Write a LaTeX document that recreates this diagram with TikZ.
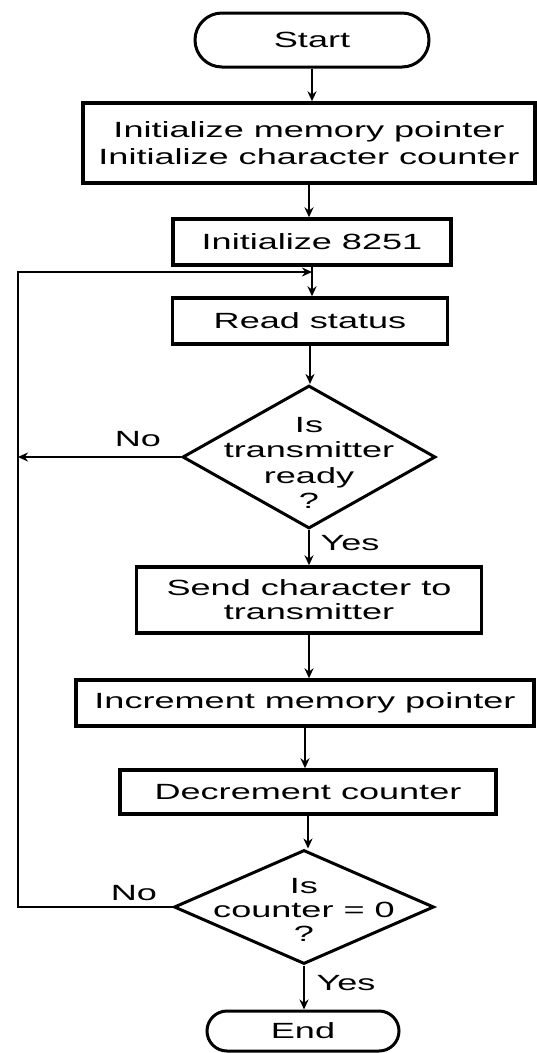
\documentclass[tikz,border=0pt]{standalone}
\usepackage{fontspec}
\setmainfont[FakeStretch=1.64]{Liberation Sans}
\usetikzlibrary{shapes.geometric,arrows.meta}
\begin{document}
\begin{tikzpicture}[x=1pt,y=-1pt,
  every node/.style={font=\fontsize{22}{27}\selectfont, inner sep=0pt, text=black},
  procbox/.style={draw, line width=3.4pt, rectangle, align=center},
  terminal/.style={draw, line width=3pt, rectangle, rounded corners=#1},
  decision/.style={draw, line width=3pt, diamond, shape aspect=1.8},
  flow/.style={line width=2.2pt, -{Stealth[length=10pt,width=9pt]}}
]
\useasboundingbox[fill=white] (0,0) rectangle (536,1053);

% terminals and process boxes
\node[terminal=27pt, minimum width=234pt, minimum height=54pt] (start) at (312,40) {Start};
\node[procbox, minimum width=452pt, minimum height=80pt] (init) at (309,143)
  {Initialize memory pointer\\Initialize character counter};
\node[procbox, minimum width=278pt, minimum height=46pt] (usart) at (312,242) {Initialize 8251};
\node[procbox, minimum width=275pt, minimum height=46pt] (read) at (310,321) {Read status};

% first decision
\node[decision, minimum width=253pt, minimum height=143pt] (d1) at (309,457) {};
\node[align=center, font=\fontsize{22}{25.5}\selectfont] (d1txt) at (309,463)
  {Is\\transmitter\\ready\\?};

\node[procbox, minimum width=345pt, minimum height=66pt, font=\fontsize{22}{24}\selectfont] (send) at (309,600)
  {Send character to\\transmitter};
\node[procbox, minimum width=458pt, minimum height=46pt] (incr) at (305,703) {Increment memory pointer};
\node[procbox, minimum width=376pt, minimum height=44pt] (decr) at (308,792) {Decrement counter};

% second decision
\node[decision, minimum width=260pt, minimum height=114pt] (d2) at (304,907) {};
\node[align=center, font=\fontsize{22}{24}\selectfont] (d2txt) at (304,910)
  {Is\\counter = 0\\?};

\node[terminal=20pt, minimum width=192pt, minimum height=40pt] (stop) at (303,1031) {End};

% branch labels
\node (no1) at (138,439) {No};
\node (yes1) at (350,543) {Yes};
\node (no2) at (134,893) {No};
\node (yes2) at (346,983) {Yes};

% loop-back line
\coordinate (loopTop) at (18,272);
\coordinate (joint) at (usart.south |- loopTop);

% main flow
\draw[flow] (start.south) -- (start.south |- init.north);
\draw[flow] (init.south) -- (init.south |- usart.north);
\draw[flow] (usart.south) -- (usart.south |- read.north);
\draw[flow] (read.south) -- (read.south |- d1.north);
\draw[flow] (d1.south) -- (d1.south |- send.north);
\draw[flow] (send.south) -- (send.south |- incr.north);
\draw[flow] (incr.south) -- (incr.south |- decr.north);
\draw[flow] (decr.south) -- (decr.south |- d2.north);
\draw[flow] (d2.south) -- (d2.south |- stop.north);

% "No" branches back to the status read
\draw[flow] (d1.west) -- (d1.west -| loopTop);
\draw[flow] (d2.west) -- (d2.west -| loopTop) -- (loopTop) -- (joint);
\end{tikzpicture}
\end{document}
